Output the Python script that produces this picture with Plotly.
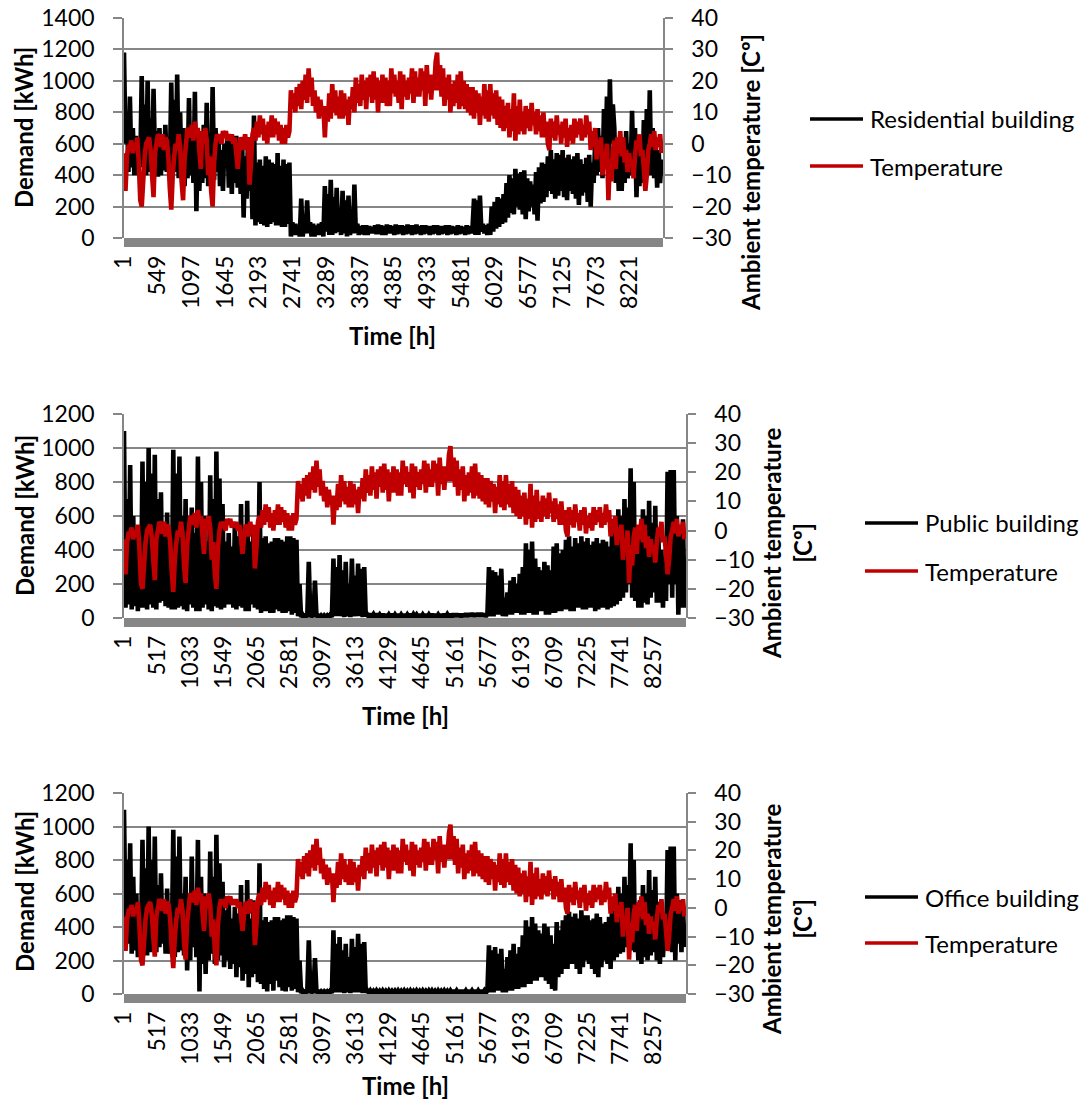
import plotly.graph_objects as go

# Hourly series sampled every 24 h over the year (hour 1 .. 8737)
HOUR_STEP = 24

temperature = [
    -3, -15, -4, -1, -1, 1, -3, 0, -2, 2, -6, -18,
    -20, -12, -4, 0, 1, 2, -2, -10, -17, -3, 0, 3,
    2, -1, 3, -2, 2, 1, -4, -14, -21, -10, -4, 0,
    -2, 3, -1, -12, -18, -5, 0, 5, 4, 2, 6, 1,
    7, 3, 5, -2, -8, 4, 0, 5, 1, -10, -4, -15,
    -20, -6, 0, 3, 1, 3, 0, 4, 2, 4, 1, 3,
    1, 3, 0, 2, -3, -8, -2, 2, 1, -2, 3, -1,
    2, -13, -6, 3, 5, 1, 7, 2, 9, 3, 8, 1,
    6, 0, 7, 2, 9, 2, 8, 3, 7, 1, 6, 0,
    5, 0, 6, 2, 4, 17, 11, 16, 10, 18, 12, 19,
    11, 20, 14, 22, 13, 24, 15, 21, 12, 17, 10, 15,
    8, 14, 9, 12, 2, 12, 7, 16, 8, 19, 10, 17,
    9, 15, 8, 17, 8, 16, 9, 14, 6, 15, 11, 18,
    10, 21, 13, 19, 12, 22, 14, 20, 11, 21, 15, 22,
    13, 23, 14, 21, 10, 20, 13, 22, 13, 21, 12, 20,
    12, 24, 16, 22, 15, 20, 13, 23, 11, 22, 15, 20,
    14, 21, 16, 24, 13, 23, 15, 21, 15, 24, 17, 23,
    12, 25, 16, 22, 14, 22, 17, 26, 29, 17, 25, 15,
    24, 12, 21, 14, 22, 10, 19, 12, 20, 13, 22, 11,
    23, 12, 20, 11, 19, 10, 18, 9, 18, 8, 17, 10,
    16, 6, 15, 9, 19, 8, 17, 7, 19, 9, 16, 8,
    17, 6, 15, 5, 14, 4, 12, 5, 13, 2, 11, 4,
    16, 1, 12, 3, 14, 4, 10, 3, 12, 5, 11, 4,
    13, 6, 10, 3, 11, 4, 9, 2, 10, 2, 7, 0,
    -2, 8, 2, 7, 1, 9, 3, 6, 0, 7, 2, 8,
    -1, 5, 1, 6, 0, 8, 2, 7, 3, 8, 1, 6,
    2, 9, 3, 7, -2, 4, -1, 5, -5, 1, -3, 2,
    -10, -3, -6, 0, -18, -5, -12, -2, 1, -8, 2, -3,
    4, -4, 2, -6, -2, -9, -3, -7, -5, -11, -4, 1,
    -1, 3, -4, -2, -8, -15, -10, -2, 0, 3, -1, 4,
    -2, 2, -1, 3, -3,
]

residential = [
    1180, 600, 800, 420, 900, 450, 700, 400, 650, 400, 620, 450,
    1030, 480, 850, 400, 1000, 420, 760, 440, 950, 500, 680, 390,
    700, 400, 650, 430, 720, 420, 620, 400, 990, 450, 880, 420,
    1040, 380, 800, 400, 700, 330, 600, 380, 890, 400, 700, 350,
    930, 170, 640, 300, 600, 350, 720, 380, 860, 330, 640, 360,
    960, 370, 700, 420, 650, 330, 560, 300, 600, 480, 650, 320,
    640, 280, 600, 350, 650, 320, 560, 280, 600, 130, 520, 250,
    640, 300, 500, 120, 780, 80, 480, 100, 500, 90, 460, 80,
    520, 70, 500, 90, 480, 100, 470, 80, 540, 80, 460, 70,
    500, 70, 470, 90, 480, 10, 100, 20, 90, 20, 80, 10,
    250, 10, 90, 30, 240, 30, 100, 10, 90, 10, 80, 20,
    90, 20, 100, 10, 330, 40, 280, 20, 370, 20, 260, 30,
    320, 40, 90, 20, 300, 30, 240, 10, 270, 20, 100, 30,
    340, 30, 90, 20, 75, 25, 80, 20, 80, 20, 75, 30,
    70, 30, 80, 25, 85, 25, 80, 20, 75, 20, 85, 30,
    80, 30, 75, 20, 85, 25, 80, 30, 80, 20, 75, 25,
    85, 30, 80, 20, 80, 25, 85, 30, 75, 20, 80, 25,
    80, 30, 75, 20, 75, 25, 80, 30, 80, 20, 75, 25,
    75, 30, 80, 20, 80, 25, 75, 30, 70, 20, 80, 25,
    75, 30, 70, 20, 80, 25, 75, 30, 70, 250, 20, 240,
    20, 270, 40, 90, 30, 80, 20, 90, 20, 200, 40, 230,
    60, 260, 70, 250, 90, 280, 100, 350, 130, 400, 160, 380,
    150, 440, 200, 410, 180, 420, 150, 430, 120, 380, 170, 360,
    200, 340, 150, 420, 110, 450, 220, 480, 230, 470, 260, 520,
    300, 560, 280, 500, 250, 540, 270, 530, 300, 560, 260, 510,
    240, 530, 300, 500, 280, 520, 250, 540, 210, 500, 270, 470,
    290, 510, 230, 530, 200, 480, 350, 600, 400, 700, 420, 650,
    380, 820, 500, 900, 450, 1010, 600, 850, 700, 350, 580, 300,
    550, 300, 620, 350, 680, 380, 600, 400, 810, 400, 700, 260,
    600, 330, 650, 350, 750, 350, 820, 420, 940, 400, 700, 380,
    600, 320, 560, 350, 500,
]

public = [
    1100, 60, 700, 80, 900, 50, 600, 70, 500, 40, 450, 60,
    920, 60, 800, 50, 1000, 80, 850, 60, 960, 50, 700, 90,
    740, 100, 500, 70, 620, 60, 400, 50, 990, 50, 850, 60,
    950, 70, 600, 50, 700, 40, 550, 80, 650, 60, 500, 40,
    950, 40, 800, 60, 600, 80, 450, 50, 840, 40, 700, 70,
    980, 60, 820, 50, 670, 60, 450, 80, 500, 80, 420, 60,
    560, 50, 480, 70, 670, 60, 500, 40, 690, 40, 450, 80,
    520, 60, 420, 50, 800, 30, 470, 40, 480, 40, 440, 30,
    450, 30, 470, 50, 470, 40, 460, 30, 450, 30, 480, 40,
    480, 20, 470, 30, 460, 10, 200, 5, 20, 5, 15, 5,
    330, 5, 20, 5, 220, 5, 15, 5, 15, 5, 15, 5,
    15, 5, 20, 5, 350, 10, 300, 10, 370, 10, 280, 5,
    330, 10, 200, 5, 350, 10, 250, 10, 320, 10, 290, 5,
    300, 10, 20, 5, 25, 8, 22, 6, 25, 8, 20, 5,
    24, 6, 22, 5, 20, 6, 24, 5, 20, 6, 22, 5,
    20, 6, 22, 5, 20, 6, 24, 5, 22, 8, 20, 6,
    22, 5, 20, 6, 22, 5, 20, 6, 24, 5, 22, 6,
    20, 5, 22, 6, 24, 6, 22, 8, 24, 6, 25, 8,
    25, 8, 24, 6, 24, 8, 26, 8, 26, 10, 28, 8,
    26, 10, 28, 8, 28, 10, 25, 8, 25, 300, 10, 280,
    10, 270, 20, 250, 20, 290, 10, 120, 10, 150, 20, 220,
    20, 240, 30, 200, 30, 260, 20, 300, 20, 440, 30, 400,
    30, 450, 20, 350, 20, 300, 40, 280, 40, 330, 20, 310,
    20, 280, 30, 420, 30, 440, 40, 380, 40, 400, 50, 460,
    50, 480, 40, 420, 40, 470, 60, 440, 60, 480, 50, 450,
    50, 470, 60, 430, 60, 450, 40, 470, 50, 440, 60, 460,
    60, 450, 50, 420, 60, 560, 70, 500, 80, 640, 100, 600,
    120, 700, 150, 650, 200, 880, 120, 800, 100, 450, 60, 500,
    60, 640, 90, 600, 80, 690, 120, 560, 150, 660, 90, 500,
    90, 400, 60, 350, 100, 860, 200, 870, 120, 870, 200, 600,
    20, 500, 60, 580, 60,
]

office = [
    1100, 400, 800, 300, 900, 240, 700, 260, 600, 220, 520, 280,
    920, 300, 750, 230, 1000, 250, 800, 300, 940, 250, 650, 280,
    720, 300, 560, 240, 630, 240, 450, 260, 980, 220, 820, 250,
    940, 260, 600, 230, 700, 140, 550, 200, 820, 280, 600, 220,
    920, 15, 700, 180, 600, 120, 500, 200, 850, 240, 700, 180,
    950, 200, 780, 230, 670, 160, 500, 200, 560, 150, 450, 180,
    520, 100, 480, 160, 650, 80, 500, 120, 680, 40, 450, 100,
    560, 120, 420, 70, 780, 60, 440, 30, 460, 15, 430, 60,
    440, 20, 460, 80, 460, 40, 440, 20, 450, 15, 470, 40,
    470, 20, 460, 30, 450, 10, 200, 5, 20, 5, 15, 5,
    320, 5, 20, 5, 215, 5, 15, 5, 15, 5, 15, 5,
    15, 5, 20, 5, 380, 10, 300, 10, 340, 10, 260, 5,
    300, 10, 220, 5, 330, 10, 280, 10, 360, 10, 300, 5,
    310, 10, 20, 5, 20, 5, 18, 4, 20, 6, 18, 4,
    20, 5, 18, 4, 20, 5, 18, 4, 18, 4, 20, 5,
    18, 4, 20, 5, 18, 4, 20, 5, 18, 4, 20, 5,
    18, 4, 20, 5, 18, 4, 20, 5, 20, 5, 18, 4,
    20, 5, 18, 4, 20, 5, 18, 4, 20, 5, 22, 6,
    20, 5, 22, 6, 22, 6, 20, 5, 22, 6, 20, 5,
    22, 6, 20, 5, 22, 6, 20, 5, 22, 290, 10, 260,
    10, 280, 20, 240, 20, 270, 10, 150, 10, 220, 20, 260,
    20, 300, 30, 240, 30, 280, 40, 350, 40, 440, 60, 400,
    60, 460, 80, 420, 80, 380, 100, 360, 100, 420, 80, 400,
    60, 350, 30, 300, 20, 430, 100, 380, 120, 440, 150, 470,
    150, 490, 180, 460, 180, 480, 150, 450, 120, 500, 160, 470,
    200, 470, 180, 440, 150, 450, 120, 480, 100, 460, 160, 420,
    200, 430, 180, 460, 150, 560, 200, 520, 220, 640, 240, 600,
    250, 700, 280, 650, 300, 900, 260, 800, 250, 500, 200, 560,
    180, 650, 220, 600, 200, 740, 230, 620, 250, 700, 200, 550,
    180, 450, 220, 400, 260, 860, 300, 880, 250, 880, 200, 600,
    300, 560, 250, 520, 280,
]

ticks_residential = [1, 549, 1097, 1645, 2193, 2741, 3289, 3837, 4385,
                     4933, 5481, 6029, 6577, 7125, 7673, 8221]
ticks_other = [1, 517, 1033, 1549, 2065, 2581, 3097, 3613, 4129,
               4645, 5161, 5677, 6193, 6709, 7225, 7741, 8257]


def hours_for(series):
    return [1 + HOUR_STEP * i for i in range(len(series))]


W, H = 1092, 1104
FONT = "Lato"
GRID = "#868686"
BLACK = "#000000"
RED = "#C00000"
LINE_W = 4.6


def fx(px):
    return px / W


def fy(py):
    return 1 - py / H


panels = [
    dict(name="Residential building", demand=residential, ymax=1400, ticks=ticks_residential,
         left=124, right=663, top=18, bottom=238,
         right_title="Ambient temperature [Cº]", rt_x=751, rt_y=173,
         lt_y=128, time_x=392, time_y=335,
         leg_x0=810, leg_x1=863, leg_y=(119, 166)),
    dict(name="Public building", demand=public, ymax=1200, ticks=ticks_other,
         left=124, right=686, top=414, bottom=618,
         right_title="Ambient temperature<br>[Cº]", rt_x=787, rt_y=544,
         lt_y=516, time_x=405, time_y=715,
         leg_x0=865, leg_x1=918, leg_y=(523, 571)),
    dict(name="Office building", demand=office, ymax=1200, ticks=ticks_other,
         left=124, right=686, top=793, bottom=994,
         right_title="Ambient temperature<br>[Cº]", rt_x=787, rt_y=920,
         lt_y=892, time_x=405, time_y=1085,
         leg_x0=865, leg_x1=918, leg_y=(897, 943)),
]

fig = go.Figure()
layout = dict(
    width=W, height=H,
    margin=dict(l=0, r=0, t=0, b=0, autoexpand=False),
    paper_bgcolor="white", plot_bgcolor="white",
    showlegend=False,
    font=dict(family=FONT, size=23, color="black"),
)
shapes = []
annotations = []

tick_font = dict(family=FONT, size=23, color="black")
title_font = dict(family=FONT, size=24, color="black", weight="bold")
legend_font = dict(family=FONT, size=24, color="black")

for k, p in enumerate(panels, start=1):
    xname = "x" if k == 1 else f"x{k}"
    yl = 2 * k - 1
    yr = 2 * k
    ylname = "y" if yl == 1 else f"y{yl}"
    yrname = f"y{yr}"

    fig.add_trace(go.Scatter(x=hours_for(p["demand"]), y=p["demand"], mode="lines", name=p["name"],
                             line=dict(color=BLACK, width=LINE_W, simplify=False),
                             xaxis=xname, yaxis=ylname))
    fig.add_trace(go.Scatter(x=hours_for(temperature), y=temperature, mode="lines", name="Temperature",
                             line=dict(color=RED, width=LINE_W, simplify=False),
                             xaxis=xname, yaxis=yrname))

    xd = [fx(p["left"]), fx(p["right"])]
    yd = [fy(p["bottom"]), fy(p["top"])]

    layout["xaxis" if k == 1 else f"xaxis{k}"] = dict(
        domain=xd, anchor=ylname, range=[1, 8760], automargin=False,
        tickmode="array", tickvals=p["ticks"], ticktext=[str(t) for t in p["ticks"]],
        tickangle=-90, ticks="", showgrid=False, zeroline=False, showline=False,
        tickfont=tick_font, ticklabelstandoff=12,
    )
    layout["yaxis" if yl == 1 else f"yaxis{yl}"] = dict(
        domain=yd, anchor=xname, range=[0, p["ymax"]], tick0=0, dtick=200, automargin=False,
        showgrid=True, gridcolor=GRID, gridwidth=1.5, zeroline=False,
        showline=True, linecolor=GRID, linewidth=1.5,
        ticks="outside", ticklen=9, tickcolor=GRID, tickwidth=1.5,
        tickfont=tick_font, ticklabelstandoff=14,
    )
    layout[f"yaxis{yr}"] = dict(
        domain=yd, anchor=xname, overlaying=ylname, side="right", automargin=False,
        range=[-30, 40], tick0=-30, dtick=10,
        showgrid=False, zeroline=False,
        showline=True, linecolor=GRID, linewidth=1.5,
        ticks="outside", ticklen=8, tickcolor=GRID, tickwidth=1.5,
        tickfont=tick_font, ticklabelstandoff=14,
    )

    # gray category-axis band under the zero line
    shapes.append(dict(type="rect", xref="paper", yref="paper",
                       x0=fx(p["left"]), x1=fx(p["right"]),
                       y0=fy(p["bottom"] + 9), y1=fy(p["bottom"]),
                       fillcolor=GRID, line=dict(width=0), layer="above"))

    # axis titles
    annotations.append(dict(text="Demand [kWh]", x=fx(24), y=fy(p["lt_y"]),
                            xref="paper", yref="paper", showarrow=False, textangle=-90,
                            xanchor="center", yanchor="middle", font=title_font))
    annotations.append(dict(text=p["right_title"], x=fx(p["rt_x"]), y=fy(p["rt_y"]),
                            xref="paper", yref="paper", showarrow=False, textangle=-90,
                            xanchor="center", yanchor="middle", font=title_font))
    annotations.append(dict(text="Time [h]", x=fx(p["time_x"]), y=fy(p["time_y"]),
                            xref="paper", yref="paper", showarrow=False,
                            xanchor="center", yanchor="middle", font=title_font))

    # legend entries
    for label, color, ly in ((p["name"], BLACK, p["leg_y"][0]), ("Temperature", RED, p["leg_y"][1])):
        shapes.append(dict(type="line", xref="paper", yref="paper",
                           x0=fx(p["leg_x0"]), x1=fx(p["leg_x1"]), y0=fy(ly), y1=fy(ly),
                           line=dict(color=color, width=3.5)))
        annotations.append(dict(text=label, x=fx(p["leg_x1"] + 5), y=fy(ly),
                                xref="paper", yref="paper", showarrow=False,
                                xanchor="left", yanchor="middle", font=legend_font))

layout["shapes"] = shapes
layout["annotations"] = annotations
fig.update_layout(**layout)
fig.write_html("out.html")
